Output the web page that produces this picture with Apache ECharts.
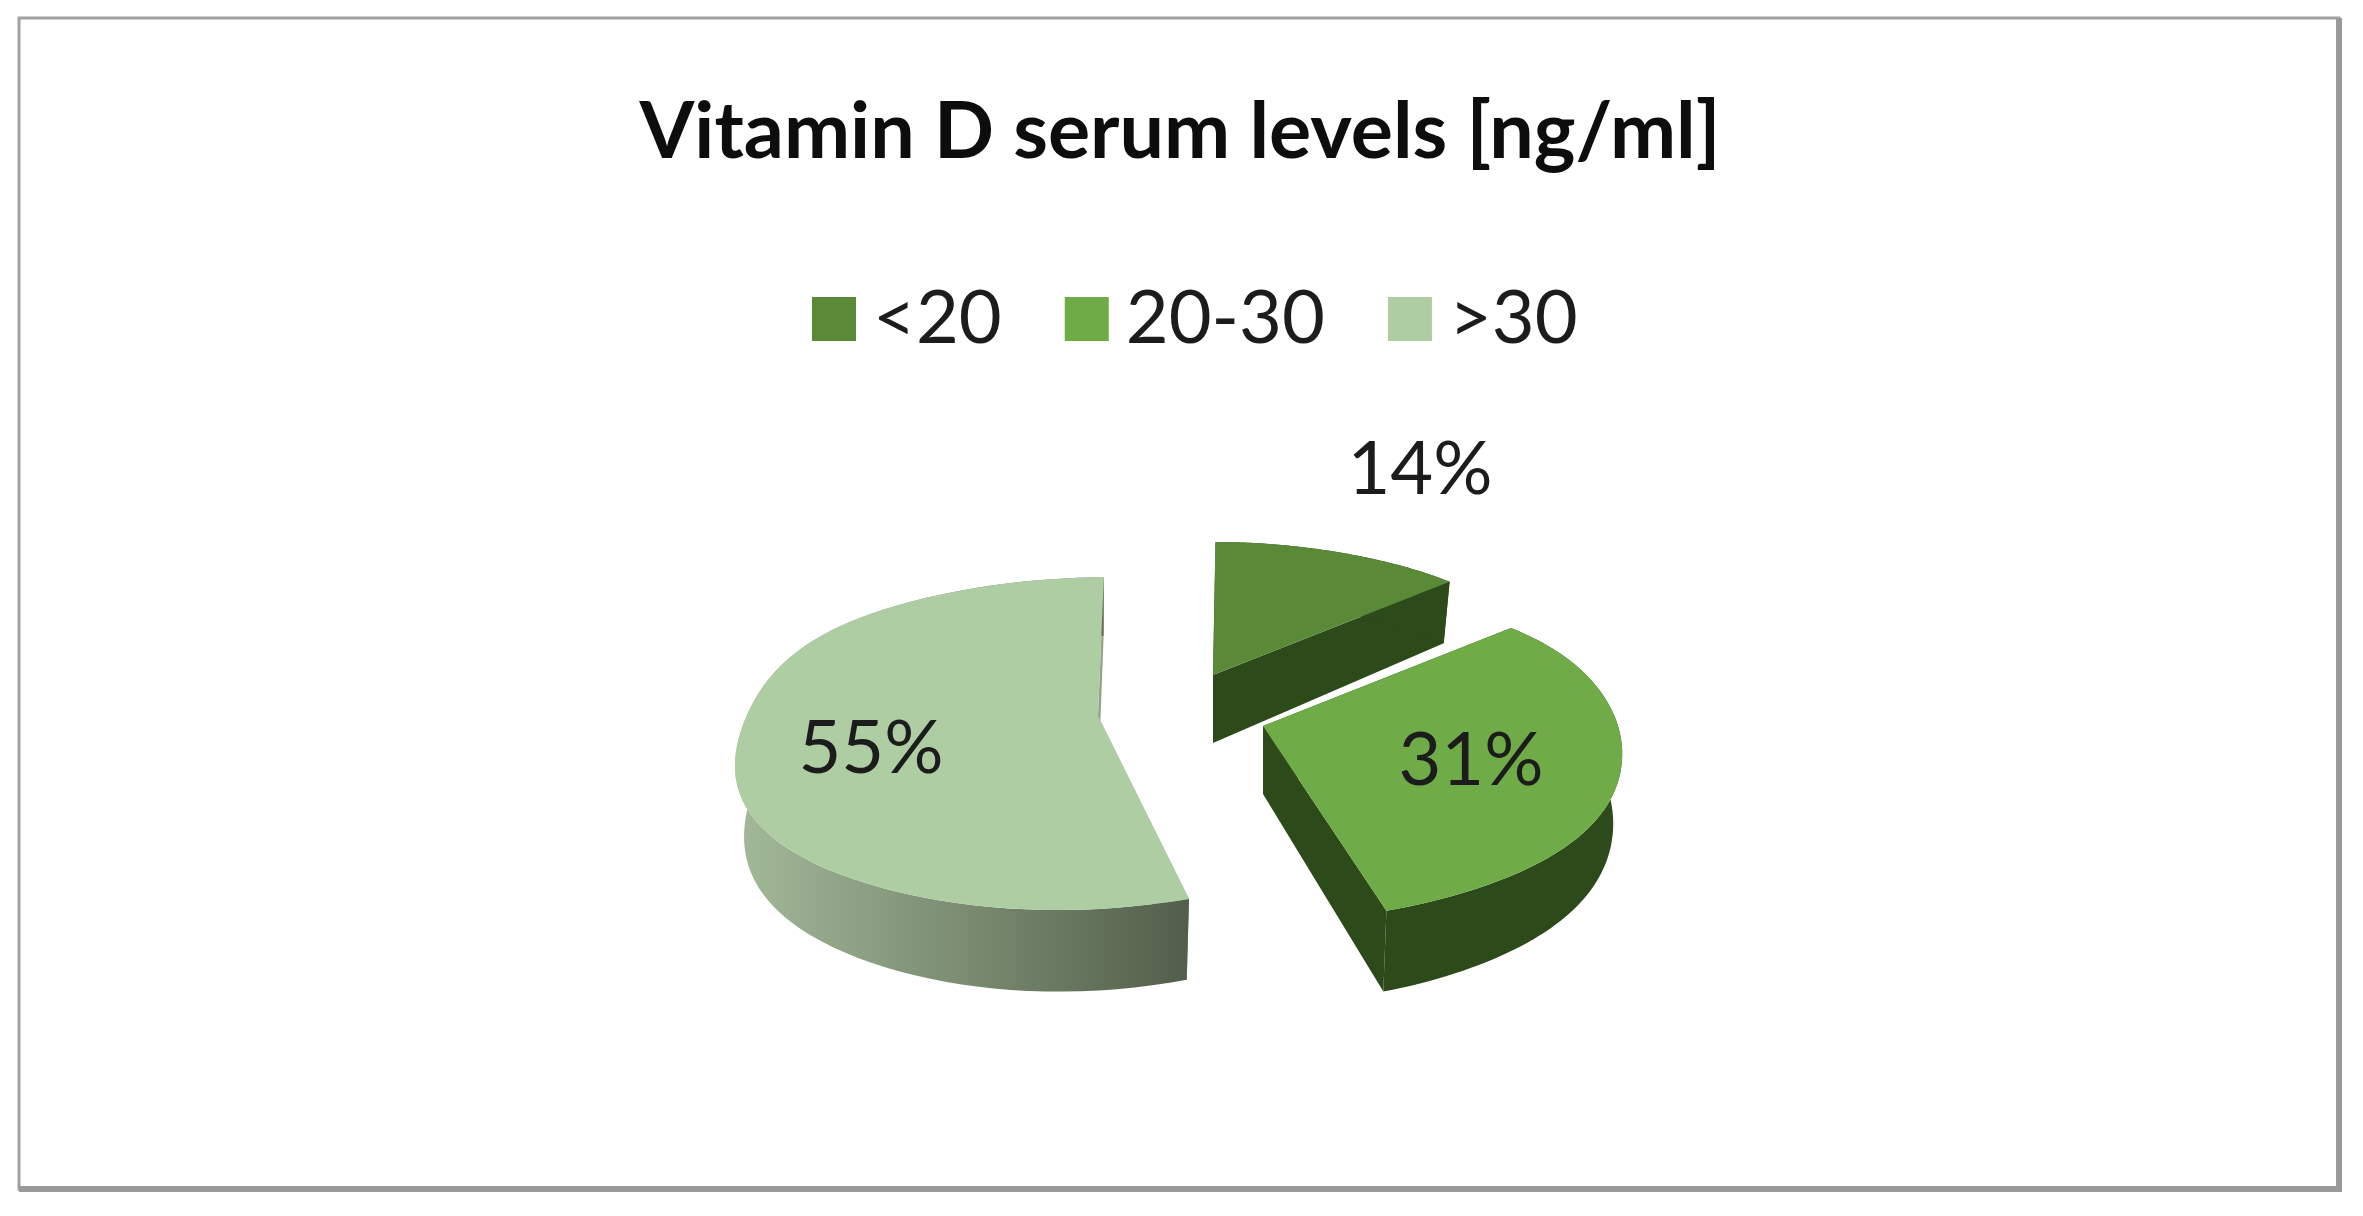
<!DOCTYPE html>
<html>
<head>
<meta charset="utf-8">
<title>Vitamin D serum levels</title>
<style>
  html, body { margin: 0; padding: 0; background: #fff; }
  #main { width: 2363px; height: 1216px; }
</style>
<script src="https://cdn.jsdelivr.net/npm/echarts@6/dist/echarts.min.js"></script>
</head>
<body>
<div id="main"></div>
<script>
const categories = ['<20', '20-30', '>30'];
const shares = [14, 31, 55];

// look of the tilted pie, kept apart from the values
const topColors = ['#5a8a38', '#6fac47', '#afcda3'];
const RADIUS = 355;
const TILT = 0.46;
const PERSPECTIVE = 6;
const VANISH_X = 1300;
const DEPTH = 68;
const BOTTOM_SHRINK = 0.975;
const BULGE = 0.12;
const radiusScale = [0.95, 1, 0.99];
const apexes = [[1213, 675], [1263, 726], [1098, 716]];
const labelCenters = [[1420, 470], [1471, 761], [871, 749]];
const FONT = 'Lato, sans-serif';

const total = shares.reduce((a, b) => a + b, 0);

function sliceAngles(index) {
  let before = 0;
  for (let i = 0; i < index; i++) {
    before += shares[i];
  }
  return [before / total * Math.PI * 2, (before + shares[index]) / total * Math.PI * 2];
}

// angle is clockwise from 12 o'clock; returns the top rim point and the one below it
function rimPoint(index, angle) {
  const apex = apexes[index];
  const radius = RADIUS * radiusScale[index];
  const depth = -Math.cos(angle);
  const k = PERSPECTIVE / (PERSPECTIVE - depth);
  const driftShare = 0.6 + 0.4 * Math.tanh(4 * depth);
  const drift = (k - 1) * (apex[0] - VANISH_X) * driftShare;
  const flat = 1 - depth * depth;
  const reach = depth * (1 + BULGE * flat * flat);
  const x = apex[0] + k * radius * Math.sin(angle) + drift;
  const y = apex[1] + k * radius * reach * TILT;
  const lower = [apex[0] + (x - apex[0]) * BOTTOM_SHRINK, y + DEPTH * k];
  return { top: [x, y], bottom: lower };
}

function polygon(points, fill) {
  return {
    type: 'polygon',
    shape: { points: points },
    style: { fill: fill, stroke: null }
  };
}

function wallFill(index) {
  if (index < 2) {
    return '#2d4a1a';
  }
  return new echarts.graphic.LinearGradient(0, 0, 1, 0, [
    { offset: 0, color: '#a3ba9a' },
    { offset: 1, color: '#525e4a' }
  ]);
}

function renderSlice(index) {
  return function (params, api) {
    const value = api.value(0);
    const angles = sliceAngles(index);
    const apex = apexes[index];
    const rim = [];
    const steps = 80;
    for (let i = 0; i <= steps; i++) {
      rim.push(rimPoint(index, angles[0] + (angles[1] - angles[0]) * i / steps));
    }
    const first = rim[0];
    const last = rim[steps];
    const apexLow = [apex[0], apex[1] + DEPTH];
    const sideColor = index < 2 ? '#2d4a1a' : '#8fa585';

    return {
      type: 'group',
      children: [
        polygon([apex, first.top, first.bottom, apexLow], sideColor),
        polygon([apex, last.top, last.bottom, apexLow], sideColor),
        polygon(rim.map(p => p.top).concat(rim.map(p => p.bottom).reverse()), wallFill(index)),
        polygon([apex].concat(rim.map(p => p.top)), topColors[index]),
        {
          type: 'text',
          style: {
            x: labelCenters[index][0],
            y: labelCenters[index][1],
            text: value + '%',
            font: '74px ' + FONT,
            fill: '#1c1c1c',
            align: 'center',
            verticalAlign: 'middle'
          }
        }
      ]
    };
  };
}

const chart = echarts.init(document.getElementById('main'), null, { renderer: 'canvas' });

chart.setOption({
  backgroundColor: '#fff',
  animation: false,
  title: {
    text: 'Vitamin D serum levels [ng/ml]',
    left: 1175,
    top: 88,
    textAlign: 'center',
    textStyle: { fontFamily: FONT, fontSize: 79, fontWeight: 'bold', color: '#0d0d0d' }
  },
  legend: {
    data: categories,
    left: 807,
    top: 277,
    icon: 'rect',
    itemWidth: 44,
    itemHeight: 44,
    itemGap: 63,
    selectedMode: false,
    textStyle: { fontFamily: FONT, fontSize: 74, color: '#1c1c1c', padding: [0, 0, 0, 12] }
  },
  graphic: [
    { type: 'rect', silent: true, shape: { x: 19, y: 18, width: 2320, height: 1171 }, style: { fill: null, stroke: '#a2a2a2', lineWidth: 3 } },
    { type: 'line', silent: true, shape: { x1: 2339, y1: 18, x2: 2339, y2: 1192 }, style: { stroke: '#9a9a9a', lineWidth: 6 } },
    { type: 'line', silent: true, shape: { x1: 19, y1: 1189, x2: 2342, y2: 1189 }, style: { stroke: '#9a9a9a', lineWidth: 6 } }
  ],
  series: categories.map((name, i) => ({
    type: 'custom',
    name: name,
    coordinateSystem: 'none',
    itemStyle: { color: topColors[i] },
    renderItem: renderSlice(i),
    data: [shares[i]],
    z: 2 + i
  }))
});
</script>
</body>
</html>
